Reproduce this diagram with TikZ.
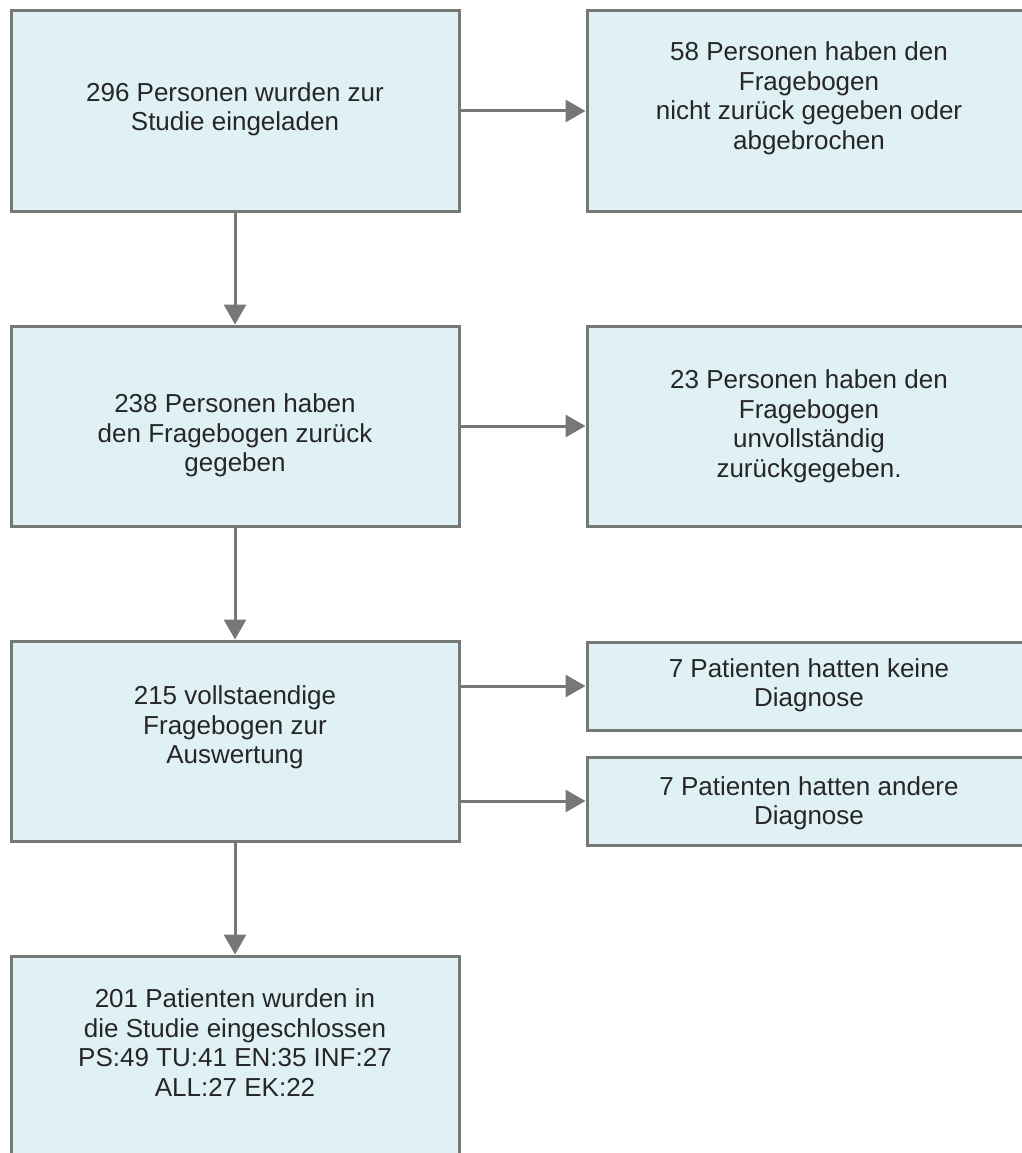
\documentclass[tikz,border=0pt]{standalone}
\usepackage{fontspec}
\setmainfont{Liberation Sans}
\usetikzlibrary{arrows.meta}
\definecolor{boxfill}{RGB}{224,241,246}
\definecolor{linegray}{RGB}{118,120,118}

\begin{document}
\begin{tikzpicture}[x=1pt,y=-1pt,
  box/.style={draw=linegray, line width=3pt, fill=boxfill, minimum width=448pt, minimum height=200pt, inner sep=0pt},
  smallbox/.style={box, minimum height=88pt},
  txt/.style={align=center, font=\fontsize{26}{29.5}\selectfont, text=black!85},
  arr/.style={draw=linegray, line width=3pt, -{Triangle[length=20pt,width=22pt]}}]

\useasboundingbox (0,0) rectangle (1021,1153);

% boxes
\node[box] (invited) at (235,111) {};
\node[box] (refused) at (811,111) {};
\node[box] (returned) at (235,426) {};
\node[box] (incomplete) at (811,426) {};
\node[box] (complete) at (235,741) {};
\node[smallbox] (nodiag) at (811,686) {};
\node[smallbox] (otherdiag) at (811,801) {};
\node[box] (included) at (235,1056) {};

% texts
\node[txt] (invitedtext) at ([yshift=1.5pt]invited.center) {296 Personen wurden zur\\Studie eingeladen};
\node[txt] (refusedtext) at ([xshift=-2pt,yshift=12.5pt]refused.center) {58 Personen haben den\\Fragebogen\\nicht zurück gegeben oder\\abgebrochen};
\node[txt] (returnedtext) at ([yshift=-9.5pt]returned.center) {238 Personen haben\\den Fragebogen zurück\\gegeben};
\node[txt] (incompletetext) at ([xshift=-2pt,yshift=-0.5pt]incomplete.center) {23 Personen haben den\\Fragebogen\\unvollständig\\zurückgegeben.};
\node[txt] (completetext) at ([yshift=13.5pt]complete.center) {215 vollstaendige\\Fragebogen zur\\Auswertung};
\node[txt] (nodiagtext) at ([xshift=-2pt,yshift=0.5pt]nodiag.center) {7 Patienten hatten keine\\Diagnose};
\node[txt] (otherdiagtext) at ([xshift=-2pt,yshift=-2.5pt]otherdiag.center) {7 Patienten hatten andere\\Diagnose};
\node[txt] (includedtext) at ([yshift=13.5pt]included.center) {201 Patienten wurden in\\die Studie eingeschlossen\\PS:49 TU:41 EN:35 INF:27\\ALL:27 EK:22};

% arrows
\draw[arr] (invited) -- (returned);
\draw[arr] (returned) -- (complete);
\draw[arr] (complete) -- (included);
\draw[arr] (invited) -- (refused);
\draw[arr] (returned) -- (incomplete);
\draw[arr] (nodiag.west -| complete.east) -- (nodiag.west);
\draw[arr] (otherdiag.west -| complete.east) -- (otherdiag.west);

\end{tikzpicture}
\end{document}
